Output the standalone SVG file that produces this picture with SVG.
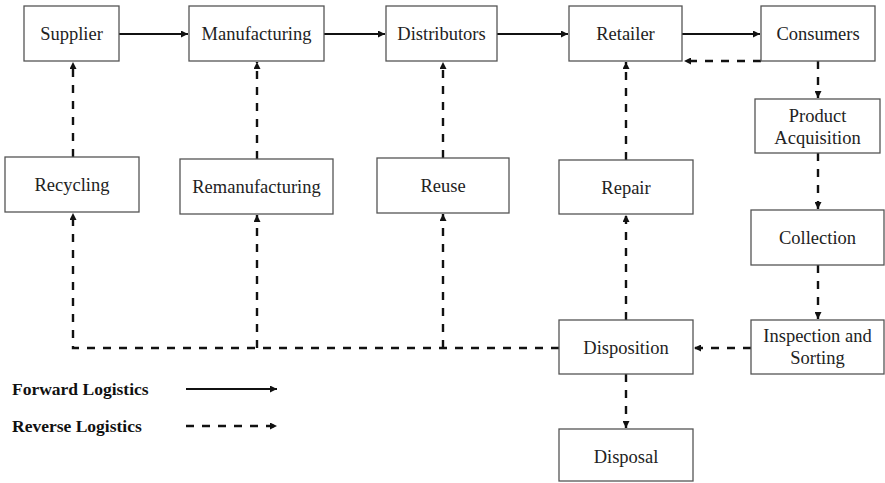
<svg xmlns="http://www.w3.org/2000/svg" width="885" height="483" viewBox="0 0 885 483">
<style>
.box{fill:#fff;stroke:#555;stroke-width:1.3}
.lbl{font-family:"Liberation Serif","Times New Roman",serif;font-size:18.5px;fill:#222;text-anchor:middle}
.leg{font-family:"Liberation Serif","Times New Roman",serif;font-size:17.5px;font-weight:bold;fill:#111}
.fw{fill:none;stroke:#111;stroke-width:1.8}
.rv{fill:none;stroke:#111;stroke-width:2.4;stroke-dasharray:8 8}
</style>
<defs>
<marker id="ah" viewBox="0 0 10 10" refX="10" refY="5" markerWidth="7" markerHeight="7" markerUnits="userSpaceOnUse" orient="auto">
<path d="M0,0 L10,5 L0,10 z" fill="#111"/>
</marker>
</defs>
<rect width="885" height="483" fill="#fff"/>
<g id="connectors">
<line class="fw" x1="119" y1="34" x2="188" y2="34" marker-end="url(#ah)"/>
<line class="fw" x1="324" y1="34" x2="385" y2="34" marker-end="url(#ah)"/>
<line class="fw" x1="497" y1="34" x2="568" y2="34" marker-end="url(#ah)"/>
<line class="fw" x1="682" y1="34" x2="760" y2="34" marker-end="url(#ah)"/>
<line class="rv" x1="761" y1="61" x2="684" y2="61" marker-end="url(#ah)"/>
<line class="rv" x1="818" y1="61" x2="818" y2="98" marker-end="url(#ah)"/>
<line class="rv" x1="818" y1="153" x2="818" y2="209" marker-end="url(#ah)"/>
<line class="rv" x1="818" y1="265" x2="818" y2="319" marker-end="url(#ah)"/>
<line class="rv" x1="751" y1="348" x2="694" y2="348" marker-end="url(#ah)"/>
<line class="rv" x1="626" y1="374" x2="626" y2="428" marker-end="url(#ah)"/>
<line class="rv" x1="626" y1="320" x2="626" y2="215" marker-end="url(#ah)"/>
<line class="rv" x1="626" y1="160" x2="626" y2="62" marker-end="url(#ah)"/>
<line class="rv" x1="443" y1="158" x2="443" y2="62" marker-end="url(#ah)"/>
<line class="rv" x1="257" y1="159" x2="257" y2="62" marker-end="url(#ah)"/>
<line class="rv" x1="73" y1="157" x2="73" y2="62" marker-end="url(#ah)"/>
<path class="rv" d="M559,348 H73 V213" marker-end="url(#ah)"/>
<path class="rv" d="M257,348 V215" marker-end="url(#ah)"/>
<path class="rv" d="M443,348 V214" marker-end="url(#ah)"/>
</g>
<g id="supplier"><rect class="box" x="24" y="6" width="95" height="55"/><text class="lbl" x="71.5" y="40">Supplier</text></g>
<g id="manufacturing"><rect class="box" x="189" y="6" width="135" height="55"/><text class="lbl" x="256.5" y="40">Manufacturing</text></g>
<g id="distributors"><rect class="box" x="386" y="6" width="111" height="55"/><text class="lbl" x="441.5" y="40">Distributors</text></g>
<g id="retailer"><rect class="box" x="569" y="6" width="113" height="55"/><text class="lbl" x="625.5" y="40">Retailer</text></g>
<g id="consumers"><rect class="box" x="761" y="6" width="114" height="55"/><text class="lbl" x="818" y="40">Consumers</text></g>
<g id="product-acquisition"><rect class="box" x="755" y="99" width="125" height="54"/><text class="lbl" x="817.5" y="122">Product</text><text class="lbl" x="817.5" y="144">Acquisition</text></g>
<g id="collection"><rect class="box" x="751" y="210" width="133" height="55"/><text class="lbl" x="817.5" y="244">Collection</text></g>
<g id="inspection"><rect class="box" x="751" y="320" width="133" height="54"/><text class="lbl" x="817.5" y="342">Inspection and</text><text class="lbl" x="817.5" y="364">Sorting</text></g>
<g id="disposition"><rect class="box" x="559" y="320" width="134" height="54"/><text class="lbl" x="626" y="354">Disposition</text></g>
<g id="disposal"><rect class="box" x="559" y="429" width="134" height="52"/><text class="lbl" x="626" y="463">Disposal</text></g>
<g id="repair"><rect class="box" x="559" y="160" width="134" height="54"/><text class="lbl" x="626" y="194">Repair</text></g>
<g id="reuse"><rect class="box" x="377" y="158" width="132" height="55"/><text class="lbl" x="443" y="192">Reuse</text></g>
<g id="remanufacturing"><rect class="box" x="180" y="159" width="153" height="55"/><text class="lbl" x="256.5" y="193">Remanufacturing</text></g>
<g id="recycling"><rect class="box" x="5" y="157" width="134" height="55"/><text class="lbl" x="72" y="191">Recycling</text></g>
<g id="legend">
<text class="leg" x="12" y="395">Forward Logistics</text>
<line class="fw" x1="186" y1="389" x2="277" y2="389" marker-end="url(#ah)"/>
<text class="leg" x="12" y="432">Reverse Logistics</text>
<line class="rv" x1="186" y1="426" x2="277" y2="426" marker-end="url(#ah)"/>
</g>
</svg>
